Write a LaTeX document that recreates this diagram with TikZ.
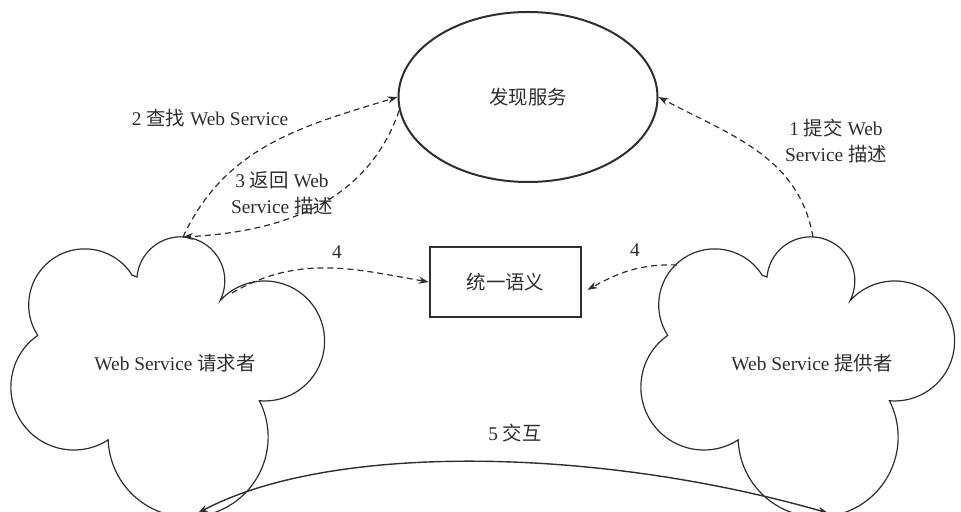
\documentclass[tikz,border=0pt]{standalone}
\usepackage{fontspec}
\setmainfont{Liberation Serif}
\newfontfamily\cjk{Noto Sans CJK SC}
\usetikzlibrary{arrows.meta,shapes.geometric}
\definecolor{ink}{HTML}{2E2E2E}
\newcommand{\zh}[1]{{\cjk #1}}
\tikzset{
  cloudline/.style={line width=0.6pt},
  cloud/.pic={
    \draw[cloudline] (137,235) arc[start angle=175, end angle=-27, radius=44]
      arc[start angle=138, end angle=-95, radius=60]
      arc[start angle=27, end angle=-178, radius=80]
      arc[start angle=-57, end angle=-235, radius=63]
      arc[start angle=213, end angle=32, radius=56] -- cycle;
    \coordinate (-top) at (183,275);
    \coordinate (-ne) at (232,219);
    \coordinate (-nw) at (47,247);
    \coordinate (-bot) at (198,-1);
  }
}

\begin{document}
\begin{tikzpicture}[x=0.5pt, y=0.5pt, font=\fontsize{9.7}{13}\selectfont, color=ink,
    flow/.style={dash pattern=on 3pt off 2pt, line width=0.6pt, -{Stealth[length=5pt,width=3.5pt]}},
    talk/.style={line width=0.7pt, {Stealth[length=5pt,width=3.5pt]}-{Stealth[length=5pt,width=3.5pt]}},
    lbl/.style={inner sep=1pt, align=center}]
  \useasboundingbox (0,0) rectangle (961,512);
  % discovery service and shared semantics
  \node[ellipse, draw, line width=1pt, minimum width=129.5pt, minimum height=85pt] (disc) at (528,415) {\zh{发现服务}};
  \node[draw, line width=1.2pt, minimum width=75.5pt, minimum height=35pt] (sem) at (505.5,230) {\zh{统一语义}};
  % requester and provider
  \pic (req) at (0,0) {cloud};
  \pic (prov) at (630,0) {cloud};
  \node (reqtext) at (175,149) {Web Service \zh{请求者}};
  \node (provtext) at (812,149) {Web Service \zh{提供者}};
  % steps
  \draw[flow] (prov-top) to[out=100, in=-28] (disc.east);
  \draw[flow] (req-top) to[out=65, in=197] (disc.west);
  \draw[flow] (disc.186) to[out=251, in=3] (req-top);
  \draw[flow] (req-ne) to[out=30, in=170] (sem.west);
  \draw[flow, shorten >=3pt] (prov-nw) to[out=178, in=29] (sem.-8);
  \draw[talk] (req-bot) .. controls +(28:150) and +(164:240) .. (prov-bot);
  \node[lbl] (step1) at (836,371) {1 \zh{提交} Web\\Service \zh{描述}};
  \node[lbl] (step2) at (210,394) {2 \zh{查找} Web Service};
  \node[lbl] (step3) at (282,319) {3 \zh{返回} Web\\Service \zh{描述}};
  \node[lbl] (step4a) at (337,260) {4};
  \node[lbl] (step4b) at (635,262) {4};
  \node[lbl] (step5) at (515,79) {5 \zh{交互}};
\end{tikzpicture}
\end{document}
